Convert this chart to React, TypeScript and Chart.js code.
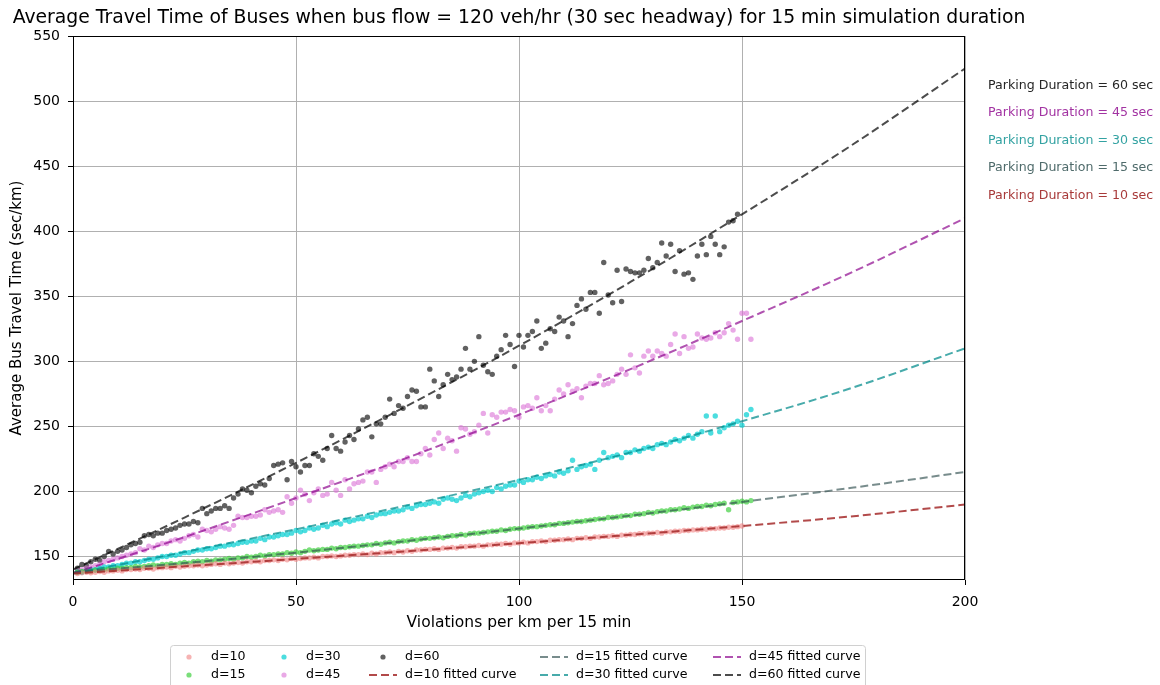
import { useEffect, useRef } from "react";
import { Chart, registerables } from "chart.js";

Chart.register(...registerables);

// ---------------- DATA ----------------
const violations = [
  1, 2, 3, 4, 5, 6, 7, 8, 9, 10, 11, 12, 13, 14, 15, 16, 17, 18, 19, 20,
  21, 22, 23, 24, 25, 26, 27, 28, 29, 30, 31, 32, 33, 34, 35, 36, 37, 38, 39, 40,
  41, 42, 43, 44, 45, 46, 47, 48, 49, 50, 51, 52, 53, 54, 55, 56, 57, 58, 59, 60,
  61, 62, 63, 64, 65, 66, 67, 68, 69, 70, 71, 72, 73, 74, 75, 76, 77, 78, 79, 80,
  81, 82, 83, 84, 85, 86, 87, 88, 89, 90, 91, 92, 93, 94, 95, 96, 97, 98, 99, 100,
  101, 102, 103, 104, 105, 106, 107, 108, 109, 110, 111, 112, 113, 114, 115, 116, 117, 118, 119, 120,
  121, 122, 123, 124, 125, 126, 127, 128, 129, 130, 131, 132, 133, 134, 135, 136, 137, 138, 139, 140,
  141, 142, 143, 144, 145, 146, 147, 148, 149, 150, 151, 152,
];

const travelD10 = [
  137, 137.5, 138, 137.5, 138, 138.5, 138, 139, 139, 139.5,
  139, 140, 140, 140.5, 140, 141, 141, 140.5, 141.5, 141.5,
  142, 141.5, 142.5, 142, 142.5, 143, 143, 143.5, 143, 143.5,
  144, 144.5, 144, 145, 144.5, 145, 145.5, 145, 146, 146,
  146.5, 146, 147, 147, 147.5, 147, 148, 147.5, 148.5, 148,
  148.5, 149, 149, 149.5, 149, 150, 150, 150.5, 150, 150.5,
  151, 151, 151.5, 151.5, 152, 151.5, 152.5, 152, 153, 153,
  153.5, 153, 154, 153.5, 154.5, 154, 155, 155, 155.5, 155.5,
  156, 155.5, 156.5, 156.5, 157, 156.5, 157.5, 157.5, 158, 158,
  158.5, 158, 159, 159, 159.5, 159.5, 160, 159.5, 160.5, 160.5,
  161, 160.5, 161.5, 161.5, 162, 161.5, 162.5, 162.5, 163, 163,
  163.5, 163, 164, 164, 164.5, 164, 165, 165, 165.5, 165.5,
  166, 165.5, 166.5, 166.5, 167, 167, 167.5, 167.5, 168, 168,
  168.5, 168, 169, 169, 169.5, 169.5, 170, 170, 170.5, 170.5,
  171, 171, 171.5, 171.5, 172, 172, 172.5, 172.5, 173, 173.5,
];

const travelD15 = [
  138, 138.5, 139, 139, 139.5, 139.5, 140, 140.5, 140, 141,
  141, 141.5, 141.5, 142.5, 142, 142.5, 143, 143.5, 143, 144,
  144, 144.5, 144, 145, 145.5, 145, 146, 146.5, 146, 147,
  146.5, 147.5, 147.5, 148, 148.5, 148, 149, 149, 150, 149.5,
  150, 151, 150.5, 151.5, 151.5, 152, 152, 153, 152.5, 153.5,
  153, 154, 155, 154.5, 155, 155.5, 155.5, 156.5, 156, 157,
  157, 157.5, 158, 158, 158.5, 159, 159, 160, 159.5, 160.5,
  161, 160.5, 161.5, 162, 162, 163, 162.5, 163.5, 164, 164,
  164.5, 165, 164.5, 165.5, 166, 166, 167, 166.5, 167.5, 168,
  168, 168.5, 169, 169.5, 169.5, 170.5, 170, 171, 171.5, 171.5,
  172, 172.5, 173, 173, 173.5, 174, 174.5, 174.5, 175.5, 175.5,
  176, 176.5, 177, 177, 177.5, 178, 178.5, 179, 179, 180,
  180, 180.5, 181, 181.5, 181.5, 182.5, 182.5, 183, 184, 183.5,
  184.5, 185, 185, 186, 186, 186.5, 187.5, 187, 188, 188.5,
  188.5, 189.5, 189, 190, 190.5, 191, 186, 191.5, 192, 192.5,
  192, 193,
];

const travelD30 = [
  138, 138, 139, 140, 140, 141, 142, 142, 143, 143,
  144, 145, 145, 146, 146, 147, 148, 148, 149, 150,
  150, 151, 151, 152, 153, 153, 154, 155, 155, 156,
  156, 157, 158, 158, 159, 159, 160, 161, 161, 162,
  162, 164, 163, 165, 165, 166, 167, 167, 168, 170,
  169, 170, 172, 171, 172, 174, 173, 175, 176, 175,
  178, 177, 178, 179, 179, 181, 180, 182, 183, 183,
  184, 185, 185, 186, 188, 187, 189, 190, 190, 191,
  192, 191, 194, 195, 194, 193, 195, 197, 196, 198,
  199, 200, 201, 200, 203, 202, 204, 205, 205, 208,
  207, 209, 209, 211, 210, 212, 213, 212, 215, 214,
  216, 224, 217, 219, 220, 221, 217, 224, 230, 226,
  227, 228, 226, 230, 230, 232, 231, 233, 234, 233,
  236, 237, 236, 238, 240, 239, 241, 243, 241, 244,
  246, 258, 245, 258, 246, 249, 251, 252, 254, 251,
  259, 263,
];

const travelD45 = [
  139, 140, 141, 142, 143, 144, 146, 147, 148, 149,
  150, 151, 152, 153, 156, 155, 158, 157, 159, 160,
  160, 162, 163, 162, 164, 166, 167, 165, 171, 170,
  169, 171, 173, 172, 171, 174, 181, 180, 180, 181,
  181, 182, 186, 184, 185, 186, 184, 196, 191, 195,
  201, 198, 193, 199, 202, 197, 198, 207, 201, 197,
  209, 202, 206, 207, 208, 215, 215, 207, 217, 219,
  221, 219, 223, 223, 226, 223, 223, 229, 233, 228,
  240, 245, 233, 241, 239, 231, 249, 248, 244, 246,
  251, 260, 245, 259, 257, 261, 261, 263, 262, 257,
  265, 266, 264, 272, 262, 266, 262, 271, 278, 275,
  282, 277, 279, 272, 281, 283, 283, 289, 282, 283,
  285, 290, 294, 290, 305, 295, 291, 304, 308, 304,
  308, 306, 304, 313, 321, 306, 319, 310, 311, 321,
  318, 317, 318, 322, 319, 322, 329, 324, 317, 337,
  337, 317,
];

const travelD60 = [
  141, 144, 143, 146, 148, 147, 150, 154, 152, 154,
  155, 157, 159, 160, 161, 166, 167, 166, 168, 168,
  170, 171, 172, 174, 175, 175, 177, 176, 187, 183,
  185, 187, 187, 189, 187, 195, 198, 202, 201, 199,
  204, 206, 205, 210, 220, 221, 222, 209, 223, 219,
  215, 220, 220, 229, 227, 224, 233, 243, 233, 231,
  238, 243, 240, 248, 255, 257, 242, 252, 252, 257,
  271, 260, 266, 264, 273, 278, 277, 265, 265, 294,
  285, 273, 282, 290, 286, 288, 294, 310, 294, 300,
  319, 297, 292, 290, 304, 309, 320, 313, 296, 320,
  311, 320, 323, 331, 310, 314, 325, 323, 334, 331,
  319, 329, 343, 348, 340, 353, 353, 337, 376, 351,
  345, 370, 346, 371, 369, 368, 368, 370, 379, 372,
  376, 391, 381, 390, 369, 385, 367, 368, 363, 381,
  390, 382, 396, 390, 382, 388, 407, 408, 413,
];

// fitted curves
const fitViolations = [0, 25, 50, 75, 100, 125, 150, 175, 200];
const fitD10 = [137, 142.5, 148.2, 154.1, 160.3, 166.7, 173.5, 181, 190];
const fitD15 = [138, 145, 153, 162, 171.5, 181.5, 192, 203, 215];
const fitD30 = [137, 153.5, 171, 189.5, 209, 230, 254, 280, 310];
const fitD45 = [137, 165, 195, 226, 259, 294, 331, 369, 410];
const fitD60 = [140, 180, 222, 266, 312, 361, 413, 467, 525];

const xTicks = [0, 50, 100, 150, 200];
const yTicks = [150, 200, 250, 300, 350, 400, 450, 500, 550];

const scatterLabels = ["d=10", "d=15", "d=30", "d=45", "d=60"];
const fitLabels = [
  "d=10 fitted curve",
  "d=15 fitted curve",
  "d=30 fitted curve",
  "d=45 fitted curve",
  "d=60 fitted curve",
];
const annotationLabels = [
  "Parking Duration = 60 sec",
  "Parking Duration = 45 sec",
  "Parking Duration = 30 sec",
  "Parking Duration = 15 sec",
  "Parking Duration = 10 sec",
];
const titleText =
  "Average Travel Time of Buses when bus flow = 120 veh/hr (30 sec headway) for 15 min simulation duration";
const xTitle = "Violations per km per 15 min";
const yTitle = "Average Bus Travel Time (sec/km)";

// ---------------- STYLE ----------------
const FONT = '"DejaVu Sans", sans-serif';
const scatterColors = [
  "rgba(240,128,128,0.6)",
  "rgba(50,205,50,0.65)",
  "rgba(0,206,209,0.7)",
  "rgba(218,112,214,0.6)",
  "rgba(0,0,0,0.62)",
];
const lineColors = [
  "rgba(165,42,42,0.85)",
  "rgba(47,79,79,0.65)",
  "rgba(0,139,139,0.72)",
  "rgba(139,0,139,0.68)",
  "rgba(0,0,0,0.7)",
];
const annotationColors = ["#262626", "#a233a2", "#33a2a2", "#4f6b6b", "#a83a3a"];

const seriesValues = [travelD10, travelD15, travelD30, travelD45, travelD60];
const fitValues = [fitD10, fitD15, fitD30, fitD45, fitD60];

const decorPlugin = {
  id: "decor",
  afterDraw(chart: any) {
    const { ctx, chartArea } = chart;
    const { left, right, top, bottom } = chartArea;
    ctx.save();
    // frame
    ctx.strokeStyle = "#000";
    ctx.lineWidth = 1;
    ctx.setLineDash([]);
    ctx.strokeRect(Math.round(left) + 0.5, Math.round(top) + 0.5, Math.round(right - left) - 1, Math.round(bottom - top) - 1);

    // title
    ctx.fillStyle = "#000";
    ctx.font = `18.8px ${FONT}`;
    ctx.textAlign = "center";
    ctx.textBaseline = "middle";
    ctx.fillText(titleText, (left + right) / 2, 18);

    // axis titles
    ctx.font = `15.5px ${FONT}`;
    ctx.fillText(xTitle, (left + right) / 2, 623);
    ctx.save();
    ctx.font = `15px ${FONT}`;
    ctx.translate(17, (top + bottom) / 2);
    ctx.rotate(-Math.PI / 2);
    ctx.fillText(yTitle, 0, 0);
    ctx.restore();

    // annotations on right
    ctx.font = `12.6px ${FONT}`;
    ctx.textAlign = "left";
    const annY = [86, 113, 141, 168, 196];
    annotationLabels.forEach((t, i) => {
      ctx.fillStyle = annotationColors[i];
      ctx.fillText(t, 988, annY[i]);
    });

    // legend
    const bx = 170.5, by = 645.5, bw = 695, bh = 50;
    ctx.beginPath();
    ctx.roundRect(bx, by, bw, bh, 3);
    ctx.fillStyle = "rgba(255,255,255,0.85)";
    ctx.fill();
    ctx.strokeStyle = "#d0d0d0";
    ctx.lineWidth = 1;
    ctx.stroke();

    const items: { label: string; kind: string; color: string }[] = [];
    scatterLabels.forEach((l, i) => items.push({ label: l, kind: "dot", color: scatterColors[i] }));
    fitLabels.forEach((l, i) => items.push({ label: l, kind: "line", color: lineColors[i] }));
    const colStarts = [175, 270, 369, 540, 713];
    const rowY = [657, 675];
    ctx.font = `12.6px ${FONT}`;
    items.forEach((it, idx) => {
      const col = Math.floor(idx / 2);
      const row = idx % 2;
      const x0 = colStarts[col];
      const y0 = rowY[row];
      if (it.kind === "dot") {
        ctx.beginPath();
        ctx.arc(x0 + 14, y0, 2.6, 0, Math.PI * 2);
        ctx.fillStyle = it.color;
        ctx.fill();
      } else {
        ctx.beginPath();
        ctx.setLineDash([8, 4]);
        ctx.moveTo(x0, y0);
        ctx.lineTo(x0 + 28, y0);
        ctx.strokeStyle = it.color;
        ctx.lineWidth = 2;
        ctx.stroke();
        ctx.setLineDash([]);
      }
      ctx.fillStyle = "#000";
      ctx.textAlign = "left";
      ctx.fillText(it.label, x0 + 36, y0);
    });
    ctx.restore();
  },
};

export default function App() {
  const ref = useRef<HTMLCanvasElement>(null);
  useEffect(() => {
    const scatterSets = seriesValues.map((vals, i) => ({
      type: "scatter" as const,
      label: scatterLabels[i],
      data: vals.map((v, j) => ({ x: violations[j], y: v })),
      backgroundColor: scatterColors[i],
      borderWidth: 0,
      pointRadius: 2.7,
      pointHoverRadius: 2.7,
      showLine: false,
      order: 2,
    }));
    const fitSets = fitValues.map((vals, i) => ({
      type: "scatter" as const,
      label: fitLabels[i],
      data: vals.map((v, j) => ({ x: fitViolations[j], y: v })),
      borderColor: lineColors[i],
      backgroundColor: lineColors[i],
      borderWidth: 2,
      borderDash: [8, 4],
      pointRadius: 0,
      showLine: true,
      cubicInterpolationMode: "monotone" as const,
      order: 1,
    }));
    const chart = new Chart(ref.current!, {
      type: "scatter",
      data: { datasets: [...scatterSets, ...fitSets] as any },
      plugins: [decorPlugin],
      options: {
        responsive: false,
        animation: false,
        devicePixelRatio: 1,
        layout: { padding: { top: 36, right: 195, left: 0, bottom: 0 } },
        plugins: { legend: { display: false }, tooltip: { enabled: false }, title: { display: false } },
        scales: {
          x: {
            type: "linear",
            min: 0,
            max: 200,
            afterBuildTicks: (s: any) => {
              s.ticks = xTicks.map((v) => ({ value: v }));
            },
            afterFit: (s: any) => {
              s.height = 105;
            },
            ticks: { color: "#000", font: { family: FONT, size: 14 }, padding: 9, maxRotation: 0 },
            grid: { color: "#b0b0b0", lineWidth: 1, tickLength: 5, tickColor: "#000" },
            border: { display: false },
          },
          y: {
            type: "linear",
            min: 132,
            max: 550,
            afterBuildTicks: (s: any) => {
              s.ticks = yTicks.map((v) => ({ value: v }));
            },
            afterFit: (s: any) => {
              s.width = 73;
            },
            ticks: { color: "#000", font: { family: FONT, size: 14 }, padding: 8 },
            grid: { color: "#b0b0b0", lineWidth: 1, tickLength: 5, tickColor: "#000" },
            border: { display: false },
          },
        },
      },
    });
    return () => chart.destroy();
  }, []);
  return (
    <div style={{ position: "absolute", left: 0, top: 0, width: 1160, height: 685, background: "#fff" }}>
      <canvas ref={ref} width={1160} height={685} style={{ display: "block" }} />
    </div>
  );
}
